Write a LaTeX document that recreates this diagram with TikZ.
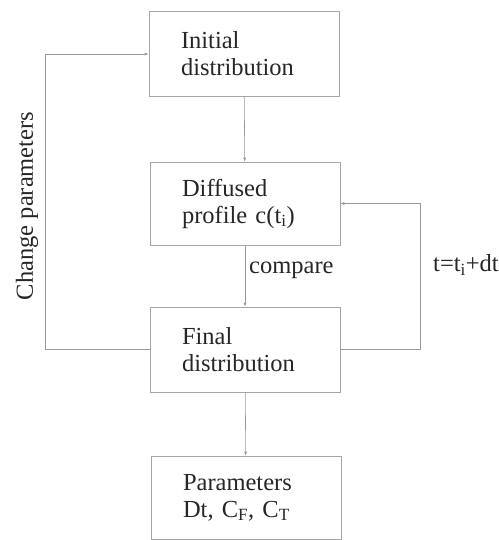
\documentclass[tikz,border=0pt]{standalone}
\usepackage{fontspec}
\setmainfont{Liberation Serif}
\usetikzlibrary{arrows.meta}

\begin{document}
\begin{tikzpicture}[%
      x=1pt, y=-1pt,
      box/.style={draw=gray!70, line width=0.6pt, minimum width=190pt,
        minimum height=85pt, text width=126pt, align=left, inner sep=0pt,
        text=black!85, font=\fontsize{24.5}{27}\selectfont},
      link/.style={draw=gray!80, line width=0.6pt, -{Latex[length=4pt,width=3pt]}},
      lbl/.style={text=black!85, font=\fontsize{24.5}{27}\selectfont, inner sep=0pt},
      ]
      \useasboundingbox (0,0) rectangle (498,540);

      \node [box] (init) at (244,54) {Initial\\distribution};
      \node [box, minimum height=83pt] (diff) at (245,203.5) {Diffused\\profile c(t\textsubscript{i})};
      \node [box] (final) at (245,349.5) {Final\\distribution};
      \node [box, minimum height=83pt] (param) at (246,497.5) {Parameters\\Dt, C\textsubscript{F}, C\textsubscript{T}};

      \coordinate (lft) at (45,349.5);
      \coordinate (rgt) at (420,349.5);

      \draw [link] (init) -- (diff);
      \draw [link] (diff) -- (final);
      \draw [link] (final) -- (param);
      \draw [link] (final.west) -- (lft) |- (init.west);
      \draw [link] (final.east) -- (rgt) |- (diff.east);

      \node [lbl, anchor=west] (cmp) at (249,270) {compare};
      \node [lbl, anchor=west] (step) at (433,265) {t=t\textsubscript{i}+dt};
      \node [lbl, rotate=90] (chg) at (27,206) {Change parameters};
\end{tikzpicture}
\end{document}
